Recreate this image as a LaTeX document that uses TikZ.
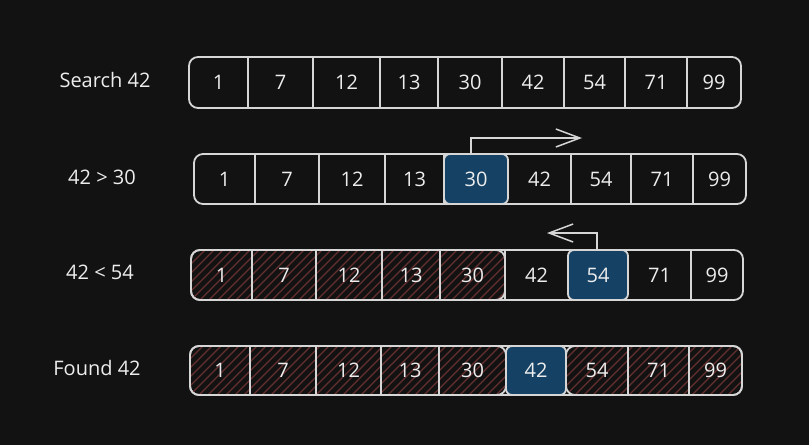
\documentclass[tikz,border=0pt]{standalone}
\usepackage{fontspec}
\setmainfont{Open Sans}
\usetikzlibrary{arrows.meta}
\definecolor{bg}{HTML}{121212}
\definecolor{ink}{HTML}{D6D6D6}
\definecolor{txt}{HTML}{EDEDED}
\definecolor{hl}{HTML}{154264}
\definecolor{hatchc}{HTML}{663030}
\tikzset{
  bar/.style={draw=ink, line width=1.8pt, rounded corners=9pt},
  cell/.style={inner sep=0pt, text=txt, font=\fontsize{20}{22}\selectfont},
  hlcell/.style={cell, fill=hl, draw=ink, line width=1.8pt, rounded corners=6pt},
  divider/.style={draw=ink, line width=1.8pt},
  hatchline/.style={draw=hatchc, line width=1.2pt},
  lab/.style={text=txt, font=\fontsize{20}{22}\selectfont},
  arr/.style={draw=ink, line width=1.5pt, -{Straight Barb[length=24pt,width=18pt,line width=1.5pt]}},
}
\begin{document}
\begin{tikzpicture}[x=1pt,y=-1pt]
\useasboundingbox[fill=bg] (0,0) rectangle (809,445);

% labels
\node[lab] (lab1) at (105,80) {Search 42};
\node[lab] (lab2) at (102,177) {42 > 30};
\node[lab] (lab3) at (100,272) {42 < 54};
\node[lab] (lab4) at (97,368) {Found 42};

% ---------- Row 1
\draw[bar] (189,57) rectangle (741,108);
\foreach \l/\r/\t [count=\i] in {189/248/1,248/313/7,313/380/12,380/438/13,438/502/30,502/564/42,564/625/54,625/687/71,687/741/99}
  \node[cell, minimum width={(\r-\l)*1pt}, minimum height=51pt] (a\i) at ({(\l+\r)/2},82.5) {\t};
\foreach \i in {1,...,8} \draw[divider] (a\i.north east) -- (a\i.south east);

% ---------- Row 2
\draw[bar] (194,154) rectangle (746,204);
\foreach \l/\r/\t [count=\i] in {194/255/1,255/319/7,319/385/12,385/444/13,444/508/30,508/571/42,571/631/54,631/693/71,693/746/99}
  \node[cell, minimum width={(\r-\l)*1pt}, minimum height=50pt] (b\i) at ({(\l+\r)/2},179) {};
\node[hlcell, minimum width=64pt, minimum height=50pt] (b5) at (476,179) {};
\foreach \i in {1,2,3,4,6,7,8} \draw[divider] (b\i.north east) -- (b\i.south east);
\foreach \t [count=\i] in {1,7,12,13,30,42,54,71,99} \node[cell] at (b\i) {\t};
\coordinate (b5end) at (582,138);
\draw[arr] ([xshift=-5pt]b5.north) |- (b5end);

% ---------- Row 3
\draw[bar] (191,250) rectangle (743,300);
\begin{scope}
  \clip[rounded corners=9pt] (191,250) rectangle (505,300);
  \foreach \k in {-54,-45,...,320} \draw[hatchline] ({191+\k},300) -- ++(50,-50);
\end{scope}
\draw[bar] (191,250) rectangle (505,300);
\foreach \l/\r [count=\i] in {191/252,252/316,316/382,382/440,440/505,505/568,568/628,628/691,691/743}
  \node[cell, minimum width={(\r-\l)*1pt}, minimum height=50pt] (c\i) at ({(\l+\r)/2},275) {};
\node[hlcell, minimum width=60pt, minimum height=50pt] (c7) at (598,275) {};
\foreach \i in {1,2,3,4,5,8} \draw[divider] (c\i.north east) -- (c\i.south east);
\foreach \t [count=\i] in {1,7,12,13,30,42,54,71,99} \node[cell] at (c\i) {\t};
\coordinate (c7end) at (547,233);
\draw[arr] ([xshift=-1pt]c7.north) |- (c7end);

% ---------- Row 4
\draw[bar] (190,346) rectangle (742,395);
\begin{scope}
  \clip[rounded corners=9pt] (190,346) rectangle (506,395);
  \foreach \k in {-54,-45,...,320} \draw[hatchline] ({190+\k},395) -- ++(49,-49);
\end{scope}
\begin{scope}
  \clip[rounded corners=9pt] (566,346) rectangle (742,395);
  \foreach \k in {-54,-45,...,180} \draw[hatchline] ({566+\k},395) -- ++(49,-49);
\end{scope}
\draw[bar] (190,346) rectangle (506,395);
\draw[bar] (566,346) rectangle (742,395);
\foreach \l/\r [count=\i] in {190/250,250/316,316/381,381/439,439/506,506/566,566/628,628/689,689/742}
  \node[cell, minimum width={(\r-\l)*1pt}, minimum height=49pt] (d\i) at ({(\l+\r)/2},370.5) {};
\node[hlcell, minimum width=60pt, minimum height=49pt] (d6) at (536,370.5) {};
\foreach \i in {1,2,3,4,7,8} \draw[divider] (d\i.north east) -- (d\i.south east);
\foreach \t [count=\i] in {1,7,12,13,30,42,54,71,99} \node[cell] at (d\i) {\t};
\end{tikzpicture}
\end{document}
